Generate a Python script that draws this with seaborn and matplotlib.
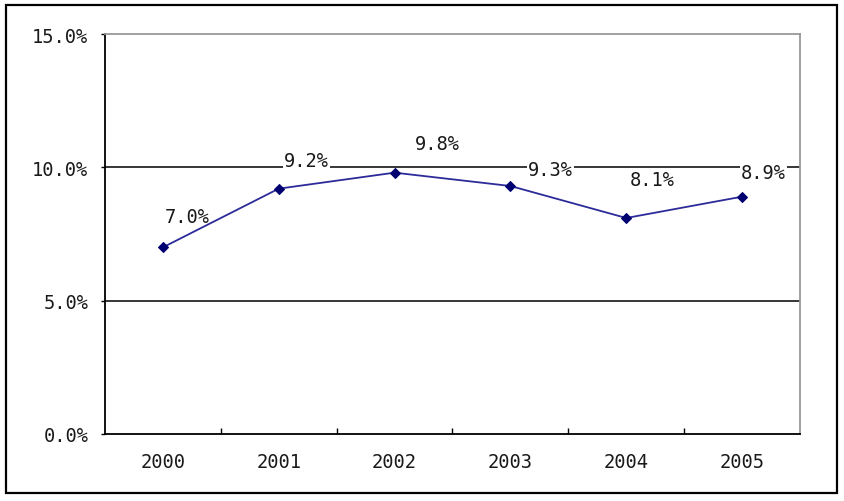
import matplotlib
matplotlib.use("Agg")
import matplotlib.pyplot as plt
import seaborn as sns
import pandas as pd
from matplotlib.patches import Rectangle
from matplotlib.ticker import FixedLocator

years = ["2000", "2001", "2002", "2003", "2004", "2005"]
values = [7.0, 9.2, 9.8, 9.3, 8.1, 8.9]
ytick_vals = [0, 5, 10, 15]
ytick_labels = ["0.0%", "5.0%", "10.0%", "15.0%"]

# label placement offsets in pixels (style only)
label_dx = [24, 28, 43, 40, 26, 21]
label_dy = [31, 28, 29, 16, 38, 24]

sns.set_style("white")
plt.rcParams['font.family'] = ['DejaVu Sans Mono', 'DejaVu Sans']

df = pd.DataFrame({"pos": range(len(years)), "value": values})

fig = plt.figure(figsize=(8.45, 5.02), dpi=100)
ax = fig.add_axes([105/845, 67/502, 695/845, 400/502])

for g in [5, 10]:
    ax.axhline(g, color="black", lw=1.1, zorder=1)

sns.lineplot(data=df, x="pos", y="value", ax=ax, color="#2b2b9a", lw=1.3,
             marker="D", markersize=5.5, markerfacecolor="#000070",
             markeredgecolor="#000070", zorder=3)

FS = 13.5
for i, v in enumerate(values):
    ax.annotate(f"{v:.1f}%", xy=(i, v), xytext=(label_dx[i], label_dy[i]),
                textcoords="offset pixels", ha="center", va="center",
                fontsize=FS, color="#1a1a1a",
                bbox=dict(boxstyle="square,pad=0.05", fc="white", ec="none"),
                zorder=2)

ax.set_xlim(-0.5, 5.5)
ax.set_ylim(0, 15)
ax.set_xticks(range(len(years)))
ax.set_xticklabels(years, fontsize=FS, color="#1a1a1a")
ax.xaxis.set_minor_locator(FixedLocator([0.5, 1.5, 2.5, 3.5, 4.5]))
ax.tick_params(axis="x", which="major", length=0, pad=13)
ax.tick_params(axis="x", which="minor", length=4, direction="in", width=1, color="black", bottom=True)
ax.set_yticks(ytick_vals)
ax.set_yticklabels(ytick_labels, fontsize=FS, color="#1a1a1a")
ax.tick_params(axis="y", which="major", length=3, direction="out", width=1, color="black", left=True, pad=9)
ax.set_xlabel("")
ax.set_ylabel("")

for s in ["left", "bottom"]:
    ax.spines[s].set_color("black")
    ax.spines[s].set_linewidth(1.3)
for s in ["top", "right"]:
    ax.spines[s].set_color("#999999")
    ax.spines[s].set_linewidth(1.3)

fig.patches.append(Rectangle((6/845, 1 - 494/502), 831/845, 488/502,
                             transform=fig.transFigure, fill=False,
                             ec="black", lw=1.6))

fig.savefig("out.png", dpi=100)
